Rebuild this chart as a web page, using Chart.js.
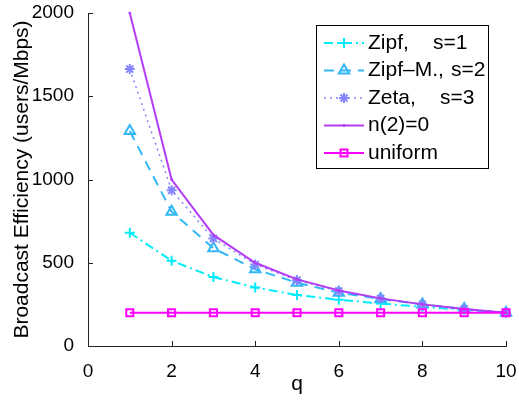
<!DOCTYPE html>
<html>
<head>
<meta charset="utf-8">
<script src="https://cdn.jsdelivr.net/npm/chart.js@4.4.1/dist/chart.umd.min.js"></script>
<style>
html, body { margin: 0; padding: 0; background: #fff; }
#wrap { width: 519px; height: 401px; }
</style>
</head>
<body>
<div id="wrap"><canvas id="efficiencyChart"></canvas></div>
<script>
// Datos
const qValues = [1, 2, 3, 4, 5, 6, 7, 8, 9, 10];
const zipfS1 = [680, 512, 414, 352, 306, 278, 255, 235, 217, 200];
const zipfMS2 = [1291, 807, 587, 461, 380, 320, 282, 250, 222, 200];
const zetaS3 = [1663, 935, 645, 490, 395, 330, 285, 250, 222, 200];
const noCache = [2000, 1000, 667, 500, 400, 333, 286, 250, 222, 200];
const uniform = [200, 200, 200, 200, 200, 200, 200, 200, 200, 200];

const xTicks = [0, 2, 4, 6, 8, 10];
const yTicks = [0, 500, 1000, 1500, 2000];

const legendNames = ['Zipf,', 'Zipf\u2013M.,', 'Zeta,', 'n(2)=0', 'uniform'];
const legendParams = ['s=1', 's=2', 's=3', '', ''];
const legendParamX = [433, 451, 440, 0, 0];

const FONT = "'Liberation Sans', Arial, sans-serif";

function toPoints(values) {
    return qValues.map((q, i) => ({ x: q, y: values[i] }));
}

// Marcas de los ejes hacia dentro, al estilo MATLAB
const inwardTicks = {
    id: 'inwardTicks',
    afterDatasetsDraw(chart) {
        const ctx = chart.ctx;
        const xs = chart.scales.x, ys = chart.scales.y;
        const area = chart.chartArea;
        ctx.save();
        ctx.strokeStyle = '#222';
        ctx.lineWidth = 1;
        ctx.beginPath();
        xTicks.forEach(v => {
            const px = Math.round(xs.getPixelForValue(v)) + 0.5;
            ctx.moveTo(px, area.bottom);
            ctx.lineTo(px, area.bottom - 5);
        });
        yTicks.forEach(v => {
            const py = Math.round(ys.getPixelForValue(v)) + 0.5;
            ctx.moveTo(area.left, py);
            ctx.lineTo(area.left + 5, py);
        });
        ctx.stroke();
        ctx.restore();
    }
};

// Leyenda con muestra de línea + marcador
const legendBox = {
    id: 'legendBox',
    afterDraw(chart) {
        const ctx = chart.ctx;
        ctx.save();
        ctx.fillStyle = '#fff';
        ctx.fillRect(316, 25, 173, 144);
        ctx.strokeStyle = '#000';
        ctx.lineWidth = 1;
        ctx.strokeRect(316.5, 25.5, 172, 143);

        chart.data.datasets.forEach((ds, i) => {
            const y = 43 + i * 27.5;
            ctx.strokeStyle = ds.borderColor;
            ctx.lineWidth = ds.borderWidth;
            ctx.setLineDash(ds.borderDash || []);
            ctx.beginPath();
            ctx.moveTo(324, y);
            ctx.lineTo(364, y);
            ctx.stroke();
            ctx.setLineDash([]);

            if (Chart.helpers && Chart.helpers.drawPoint) {
                ctx.strokeStyle = ds.pointBorderColor;
                ctx.fillStyle = ds.pointBackgroundColor;
                ctx.lineWidth = ds.pointBorderWidth;
                Chart.helpers.drawPoint(ctx, {
                    pointStyle: ds.pointStyle,
                    radius: ds.pointRadius,
                    borderWidth: ds.pointBorderWidth,
                    rotation: 0
                }, 344, y);
            }

            ctx.fillStyle = '#000';
            ctx.font = '21px ' + FONT;
            ctx.textBaseline = 'middle';
            ctx.textAlign = 'left';
            ctx.fillText(legendNames[i], 368, y);
            if (legendParams[i]) ctx.fillText(legendParams[i], legendParamX[i], y);
        });
        ctx.restore();
    }
};

const datasets = [
    {
        label: 'Zipf, s=1',
        data: toPoints(zipfS1),
        borderColor: '#00ecfa',
        borderWidth: 2,
        borderDash: [9, 4, 2, 4],
        pointStyle: 'cross',
        pointRadius: 5,
        pointBorderWidth: 2,
        pointBorderColor: '#00ecfa',
        pointBackgroundColor: 'rgba(0,0,0,0)'
    },
    {
        label: 'Zipf-M., s=2',
        data: toPoints(zipfMS2),
        borderColor: '#33b6f7',
        borderWidth: 2,
        borderDash: [10, 7],
        pointStyle: 'triangle',
        pointRadius: 6,
        pointBorderWidth: 2,
        pointBorderColor: '#33b6f7',
        pointBackgroundColor: 'rgba(0,0,0,0)'
    },
    {
        label: 'Zeta, s=3',
        data: toPoints(zetaS3),
        borderColor: '#8585ff',
        borderWidth: 1.5,
        borderDash: [2, 4],
        pointStyle: 'star',
        pointRadius: 5,
        pointBorderWidth: 2,
        pointBorderColor: '#8585ff',
        pointBackgroundColor: '#8585ff'
    },
    {
        label: 'n(2)=0',
        data: toPoints(noCache),
        borderColor: '#b43cf5',
        borderWidth: 2,
        pointStyle: 'circle',
        pointRadius: 1,
        pointBorderWidth: 1,
        pointBorderColor: '#b43cf5',
        pointBackgroundColor: '#b43cf5'
    },
    {
        label: 'uniform',
        data: toPoints(uniform),
        borderColor: '#ff00ff',
        borderWidth: 2,
        pointStyle: 'rect',
        pointRadius: 5,
        pointBorderWidth: 2,
        pointBorderColor: '#ff00ff',
        pointBackgroundColor: 'rgba(0,0,0,0)'
    }
];

// Orden de dibujo: el último de MATLAB queda encima
datasets.forEach((ds, i) => {
    ds.order = datasets.length - i;
    ds.tension = 0;
    ds.fill = false;
    ds.clip = false;
});

new Chart(document.getElementById('efficiencyChart'), {
    type: 'line',
    data: { datasets: datasets },
    options: {
        responsive: true,
        maintainAspectRatio: false,
        animation: false,
        events: [],
        layout: { padding: { top: 13, right: 13, left: 0, bottom: 0 } },
        plugins: {
            legend: { display: false },
            tooltip: { enabled: false }
        },
        scales: {
            x: {
                type: 'linear',
                min: 0,
                max: 10,
                afterBuildTicks: s => { s.ticks = xTicks.map(v => ({ value: v })); },
                afterFit: s => { s.height = 55; s.paddingLeft = 0; s.paddingRight = 0; },
                grid: { display: false },
                border: { display: true, color: '#222', width: 1 },
                ticks: {
                    color: '#000',
                    padding: 6,
                    maxRotation: 0,
                    callback: v => String(v),
                    font: { family: FONT, size: 19 }
                },
                title: {
                    display: true,
                    text: 'q',
                    color: '#000',
                    padding: { top: 0, bottom: 4 },
                    font: { family: FONT, size: 21 }
                }
            },
            y: {
                type: 'linear',
                min: 0,
                max: 2000,
                afterBuildTicks: s => { s.ticks = yTicks.map(v => ({ value: v })); },
                afterFit: s => { s.width = 88; s.paddingTop = 0; s.paddingBottom = 0; },
                grid: { display: false },
                border: { display: true, color: '#222', width: 1 },
                ticks: {
                    color: '#000',
                    padding: 6,
                    callback: v => String(v),
                    font: { family: FONT, size: 19 }
                },
                title: {
                    display: true,
                    text: 'Broadcast Efficiency (users/Mbps)',
                    color: '#000',
                    padding: { top: 10, bottom: 0 },
                    font: { family: FONT, size: 21 }
                }
            }
        }
    },
    plugins: [inwardTicks, legendBox]
});
</script>
</body>
</html>
